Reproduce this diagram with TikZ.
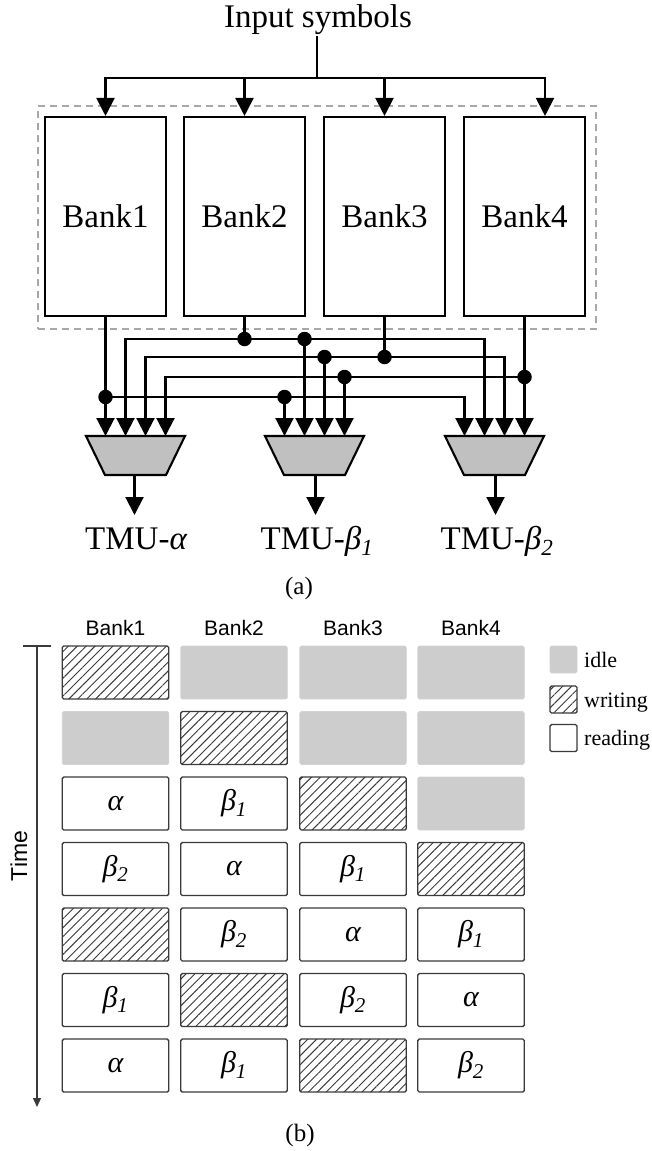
\documentclass[tikz,border=0pt]{standalone}
\usepackage{fontspec}
\setmainfont{Liberation Serif}
\setsansfont{Liberation Sans}
\usetikzlibrary{arrows.meta,patterns.meta}
\definecolor{muxgray}{HTML}{C0C0C0}
\definecolor{idlegray}{HTML}{CDCDCD}
\definecolor{framegray}{HTML}{A8A8A8}
\definecolor{celledge}{HTML}{3A3A3A}
\newcommand\BetaOne{β\textsubscript{1}}
\newcommand\BetaTwo{β\textsubscript{2}}
\begin{document}
\begin{tikzpicture}[x=1pt,y=-1pt,
  wire/.style={line width=2.1pt},
  arr/.style={wire,-{Triangle[length=18pt,width=18pt]}},
  bigtext/.style={font=\fontsize{33}{38}\selectfont, inner sep=1pt},
  captext/.style={font=\fontsize{25}{30}\selectfont, inner sep=0pt},
  bankbox/.style={draw, line width=2.1pt, minimum width=121pt, minimum height=199pt, inner sep=0pt, font=\fontsize{33}{38}\selectfont},
  groupbox/.style={draw=framegray, line width=1.4pt, dash pattern=on 7pt off 5pt, minimum width=558pt, minimum height=223pt, inner sep=0pt},
  muxdraw/.style={draw, line width=2.1pt, fill=muxgray, line join=miter},
  dot/.style={circle, fill, inner sep=0pt, minimum size=14.5pt},
  cell/.style={minimum width=106.5pt, minimum height=53pt, inner sep=0pt, rounded corners=1.5pt, font=\fontsize{30}{34}\selectfont\itshape},
  idlec/.style={cell, fill=idlegray, draw=idlegray!90!white, line width=0.6pt},
  writec/.style={cell, draw=celledge, line width=1.4pt, pattern={Lines[angle=45,distance=6.3pt,line width=0.95pt]}, pattern color=celledge},
  readc/.style={cell, draw=celledge, line width=1.4pt, fill=white},
  hdr/.style={font=\sffamily\fontsize{21}{25}\selectfont, inner sep=0pt},
  legtext/.style={font=\fontsize{22}{26}\selectfont, inner sep=0pt},
  legbox/.style={minimum width=27pt, minimum height=27pt, inner sep=0pt},
  timeax/.style={draw=celledge, line width=1.3pt}
]
\useasboundingbox (0,0) rectangle (652,1151);

% ---------------- part (a) ----------------
\node[bigtext] (inp) at (318,20) {Input symbols};
\coordinate (hub) at (317,78);

\node[groupbox] (grp) at (317,217.5) {};
\node[bankbox] (b1) at (105.5,216.5) {Bank1};
\node[bankbox] (b2) at (244.5,216.5) {Bank2};
\node[bankbox] (b3) at (384.5,216.5) {Bank3};
\node[bankbox] (b4) at (524.5,216.5) {Bank4};

\draw[wire] (inp.south -| hub) -- (hub);
\draw[arr] (hub) -| (b1.north);
\draw[arr] (hub) -| (b2.north);
\draw[arr] (hub) -| (b3.north);
\draw[arr] (hub) -| ([xshift=20.5pt]b4.north);

% multiplexers (trapezoids)
\foreach \m/\c in {ma/135.5, mb/314.5, mc/494.5}{
  \coordinate (\m) at (\c,455.5);
  \draw[muxdraw] (\m) ++(-49.5,-19.5) -- ++(99,0) -- ++(-19,39) -- ++(-61,0) -- cycle;
  \coordinate (\m1) at (\c-30,436);
  \coordinate (\m2) at (\c-10,436);
  \coordinate (\m3) at (\c+10,436);
  \coordinate (\m4) at (\c+30,436);
}

% junction dots
\node[dot] (j1) at (105.5,397) {};
\node[dot] (d1) at (284.5,397) {};
\node[dot] (j2) at (244.5,339) {};
\node[dot] (d2) at (304.5,339) {};
\node[dot] (j3) at (384.5,357) {};
\node[dot] (d3) at (324.5,357) {};
\node[dot] (j4) at (524.5,377) {};
\node[dot] (d4) at (344.5,377) {};

% Bank1
\draw[arr] (b1.south) -- (ma1);
\draw[arr] (j1.center) -| (mc1);
\draw[arr] (d1.center) -- (mb1);
% Bank2
\draw[wire] (b2.south) -- (j2.center);
\draw[arr] (j2.center) -| (ma2);
\draw[arr] (j2.center) -| (mc2);
\draw[arr] (d2.center) -- (mb2);
% Bank3
\draw[wire] (b3.south) -- (j3.center);
\draw[arr] (j3.center) -| (ma3);
\draw[arr] (j3.center) -| (mc3);
\draw[arr] (d3.center) -- (mb3);
% Bank4
\draw[arr] (b4.south) -- (mc4);
\draw[arr] (j4.center) -| (ma4);
\draw[arr] (d4.center) -- (mb4);

% outputs
\coordinate (oa0) at (134.5,475);
\coordinate (ob0) at (315.5,475);
\coordinate (oc0) at (495.5,475);
\node[bigtext, anchor=base] (ta) at (136,549) {TMU-{\itshape α}};
\node[bigtext, anchor=base] (tb) at (317,549) {TMU-{\itshape\BetaOne}};
\node[bigtext, anchor=base] (tc) at (497,549) {TMU-{\itshape\BetaTwo}};
\draw[arr] (oa0) -- (oa0 |- 0,515) coordinate (oa1);
\draw[arr] (ob0) -- (ob0 |- 0,515) coordinate (ob1);
\draw[arr] (oc0) -- (oc0 |- 0,515) coordinate (oc1);

\node[captext] (capa) at (299,588) {(a)};

% ---------------- part (b) ----------------
\node[hdr, anchor=base] (h1) at (115.5,635) {Bank1};
\node[hdr, anchor=base] (h2) at (234,635) {Bank2};
\node[hdr, anchor=base] (h3) at (353,635) {Bank3};
\node[hdr, anchor=base] (h4) at (471,635) {Bank4};

% row 1
\node[writec] (c11) at (115.5,672.5) {};
\node[idlec]  (c12) at (234,672.5) {};
\node[idlec]  (c13) at (353,672.5) {};
\node[idlec]  (c14) at (471,672.5) {};
% row 2
\node[idlec]  (c21) at (115.5,738) {};
\node[writec] (c22) at (234,738) {};
\node[idlec]  (c23) at (353,738) {};
\node[idlec]  (c24) at (471,738) {};
% row 3
\node[readc]  (c31) at (115.5,803.5) {α};
\node[readc]  (c32) at (234,803.5) {\BetaOne};
\node[writec] (c33) at (353,803.5) {};
\node[idlec]  (c34) at (471,803.5) {};
% row 4
\node[readc]  (c41) at (115.5,869) {\BetaTwo};
\node[readc]  (c42) at (234,869) {α};
\node[readc]  (c43) at (353,869) {\BetaOne};
\node[writec] (c44) at (471,869) {};
% row 5
\node[writec] (c51) at (115.5,934.5) {};
\node[readc]  (c52) at (234,934.5) {\BetaTwo};
\node[readc]  (c53) at (353,934.5) {α};
\node[readc]  (c54) at (471,934.5) {\BetaOne};
% row 6
\node[readc]  (c61) at (115.5,1000) {\BetaOne};
\node[writec] (c62) at (234,1000) {};
\node[readc]  (c63) at (353,1000) {\BetaTwo};
\node[readc]  (c64) at (471,1000) {α};
% row 7
\node[readc]  (c71) at (115.5,1065.5) {α};
\node[readc]  (c72) at (234,1065.5) {\BetaOne};
\node[writec] (c73) at (353,1065.5) {};
\node[readc]  (c74) at (471,1065.5) {\BetaTwo};

% legend
\node[idlec, legbox]  (lg1) at (563.5,659.5) {};
\node[writec, legbox] (lg2) at (563.5,699.5) {};
\node[readc, legbox]  (lg3) at (563.5,738) {};
\node[legtext, anchor=base west] (lt1) at (584,667) {idle};
\node[legtext, anchor=base west] (lt2) at (584,707) {writing};
\node[legtext, anchor=base west] (lt3) at (584,745) {reading};

% time axis
\coordinate (tl) at (23,646);
\coordinate (tr) at (51,646);
\coordinate (ttop) at (37,646);
\coordinate (tbot) at (37,1107);
\draw[timeax] (tl) -- (tr);
\draw[timeax, -{Triangle[length=9pt,width=8pt]}] (ttop) -- (tbot);
\node[hdr, font=\sffamily\fontsize{23}{27}\selectfont, rotate=90] (tlab) at (19,856) {Time};

\node[captext] (capb) at (300,1135) {(b)};
\end{tikzpicture}
\end{document}
